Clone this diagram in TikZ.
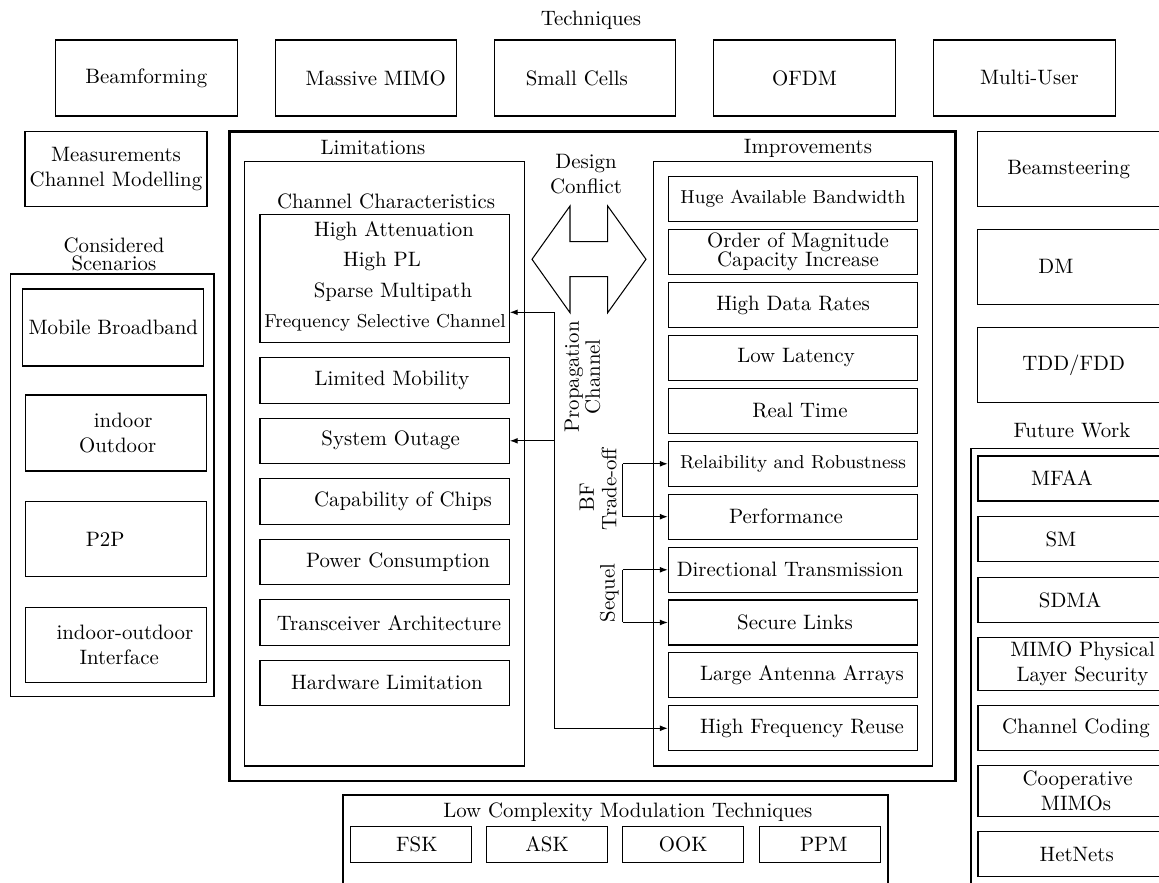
\documentclass[tikz,border=0pt]{standalone}
\usetikzlibrary{arrows.meta}
\begin{document}
\begin{tikzpicture}[x=0.48pt,y=-0.48pt,
  box/.style={draw, line width=0.5pt, inner sep=1pt, align=center},
  bx/.style 2 args={minimum width=#1*0.48pt, minimum height=#2*0.48pt},
  mainframe/.style={draw, line width=1.4pt, inner sep=0pt},
  lbl/.style={inner sep=0pt, align=center},
  conn/.style={line width=0.5pt},
  arr/.style={line width=0.5pt, -{Latex[length=3.8pt,width=2.8pt]}}]
\useasboundingbox (0,0) rectangle (1159,883);
\clip (0,0) rectangle (1159,883);

% ---------- top row: techniques ----------
\node[lbl] (tech) at (591,20) {Techniques};
\node[box,bx={181.5}{76}] (beam)  at (146.3,78) {Beamforming};
\node[box,bx={181.5}{76}] (mimo)  at (365.8,78) {\hspace*{9.6pt}Massive MIMO};
\node[box,bx={181.5}{76}] (small) at (585.2,78) {Small Cells\hspace*{8pt}};
\node[box,bx={181.5}{76}] (ofdm)  at (804.5,78) {OFDM};
\node[box,bx={181.5}{76}] (multi) at (1024.4,78) {\hspace*{4.8pt}Multi-User};

% ---------- left column ----------
\node[box,bx={182}{75}] (meas) at (116,169.2) {Measurements\\Channel Modelling};
\node[lbl] (scenlbl) at (114,254.5) {Considered\\[-3pt]Scenarios};
\node[box,bx={203.3}{422.7}] (scenbox) at (112.35,485.35) {};
\node[box,bx={181.3}{77}] (mb)  at (113.3,327.5) {Mobile Broadband};
\node[box,bx={181}{76}]   (io)  at (116.2,433)   {\hspace*{6.7pt}indoor\\\hspace*{1.4pt}Outdoor};
\node[box,bx={181}{75}]   (p2p) at (116.2,539.2) {P2P\hspace*{10.6pt}};
\node[box,bx={181}{75.7}] (ioi) at (116.2,644.9) {\hspace*{8.4pt}indoor-outdoor\\\hspace*{2.9pt}Interface};

% ---------- main frame ----------
\node[mainframe,bx={726.2}{649.3}] (main) at (592.6,456.35) {};

% limitations
\node[lbl] (limlbl) at (373,148) {Limitations};
\node[box,bx={280.4}{604.3}] (limbox) at (384.5,463.85) {};
\node[lbl] (cclbl) at (386,201) {Channel Characteristics};
\node[box,bx={249.3}{128}] (cc) at (384.65,278.3) {};
\node[lbl] (ha)  at (394,231)   {High Attenuation};
\node[lbl] (hpl) at (382,261)   {High PL};
\node[lbl] (spm) at (393,291.7) {Sparse Multipath};
\node[lbl,font=\small] (fsc) at (385,322.7) {Frequency Selective Channel};
\node[box,bx={249.3}{45.5}] (lmob) at (384.65,380.5) {\hspace*{7pt}Limited Mobility};
\node[box,bx={249.3}{45.5}] (sout) at (384.65,440.8) {\hspace*{5.8pt}System Outage};
\node[box,bx={249.3}{45.5}] (cap)  at (384.65,501.7) {\hspace*{17.6pt}Capability of Chips};
\node[box,bx={249.3}{45.5}] (pow)  at (384.65,562)   {\hspace*{12.8pt}Power Consumption};
\node[box,bx={249.3}{45.5}] (trx)  at (384.65,622.7) {\hspace*{4.1pt}Transceiver Architecture};
\node[box,bx={249.3}{45.5}] (hw)   at (384.65,682.8) {\hspace*{2.2pt}Hardware Limitation};

% design conflict
\node[lbl] (dc) at (586,174.5) {Design\\Conflict};
\draw[line width=0.5pt] (570,206) -- (570,241.7) -- (607.7,241.7) -- (607.7,206) -- (646,259.3)
  -- (607.7,312.7) -- (607.7,276.7) -- (570,276.7) -- (570,312.7) -- (532,259.3) -- cycle;

\node[lbl,rotate=90] (prop) at (582.5,377) {Propagation\\[-2pt]Channel};
\node[lbl,rotate=90] (bf)   at (598,489)   {BF\hspace*{7.7pt}\\[-1.2pt]Trade-off};
\node[lbl,rotate=90] (seq)  at (609.3,593) {Sequel};

% improvements
\node[lbl] (implbl) at (808,148) {Improvements};
\node[box,bx={279.4}{604.3}] (impbox) at (793,463.85) {};
\node[box,bx={249.3}{45},font=\small] (huge) at (793,199.2) {Huge Available Bandwidth};
\node[box,bx={249.3}{45}] (order) at (793,251.8) {\hspace*{4.8pt}Order of Magnitude\\[-2.6pt]\hspace*{4.8pt}Capacity Increase};
\node[box,bx={249.3}{45}] (hdr)  at (793,305)   {High Data Rates};
\node[box,bx={249.3}{45}] (lat)  at (793,357.8) {\hspace*{2.9pt}Low Latency};
\node[box,bx={249.3}{45}] (rt)   at (793,410.8) {\hspace*{6.7pt}Real Time};
\node[box,bx={249.3}{45},font=\small] (rel) at (793,463.8) {Relaibility and Robustness};
\node[box,bx={249.3}{45}] (perf) at (793,516.7) {Performance\hspace*{6.7pt}};
\node[box,bx={249.3}{45}] (dir)  at (793,569.8) {Directional Transmission\hspace*{2.9pt}};
\node[box,bx={249.3}{45}] (sec)  at (793,622.5) {\hspace*{1.9pt}Secure Links};
\node[box,bx={249.3}{45}] (laa)  at (793,675.2) {\hspace*{8.6pt}Large Antenna Arrays};
\node[box,bx={249.3}{45}] (hfr)  at (793,728.3) {\hspace*{8.6pt}High Frequency Reuse};

% connectors
\coordinate (pctop) at (554.3,312.3);
\coordinate (pcbot) at (554.3,728.3);
\draw[conn] (pctop) -- (pcbot);
\draw[arr] (pctop) -- (pctop -| cc.east);
\draw[arr] (sout.east -| pctop) -- (sout.east);
\draw[arr] (pcbot) -- (hfr.west);
\coordinate (brx) at (622.7,0);
\draw[conn] (brx |- rel.west) -- (brx |- perf.west);
\draw[arr] (brx |- rel.west) -- (rel.west);
\draw[arr] (brx |- perf.west) -- (perf.west);
\draw[conn] (brx |- dir.west) -- (brx |- sec.west);
\draw[arr] (brx |- dir.west) -- (dir.west);
\draw[arr] (brx |- sec.west) -- (sec.west);

% ---------- right column ----------
\node[box,bx={182}{75}] (bst) at (1068.7,169.2) {Beamsteering};
\node[box,bx={182}{75}] (dm)  at (1068.7,266.8) {DM\hspace*{12.2pt}};
\node[box,bx={182}{75}] (tdd) at (1068.7,365.2) {\hspace*{4.8pt}TDD/FDD};
\node[lbl] (fwlbl) at (1072,431) {Future Work};
\node[box,bx={209}{451.7}] (fwbox) at (1075.5,674.15) {};
\node[box,bx={192}{45}]   (mfaa)   at (1074,478.5) {MFAA\hspace*{11.5pt}};
\node[box,bx={192}{45}]   (smx)    at (1074,539.2) {SM\hspace*{12.5pt}};
\node[box,bx={192}{45}]   (sdma)   at (1074,599.8) {SDMA\hspace*{3.8pt}};
\node[box,bx={192}{52.3}] (mimops) at (1074,663.9) {\hspace*{8.2pt}MIMO Physical\\\hspace*{8.2pt}Layer Security};
\node[box,bx={192}{45}]   (cod)    at (1074,728.2) {\hspace*{1.9pt}Channel Coding};
\node[box,bx={192}{51}]   (coop)   at (1074,791.2) {\hspace*{3.4pt}Cooperative\\\hspace*{1.9pt}MIMOs};
\node[box,bx={192}{45}]   (het)    at (1074,854.2) {\hspace*{2.6pt}HetNets};

% ---------- bottom ----------
\node[box,bx={545}{105}] (lcbox) at (615.5,847.5) {};
\node[lbl] (lclbl) at (627.8,812.3) {Low Complexity Modulation Techniques};
\node[box,bx={121}{36}] (fsk) at (410.8,844.7) {\hspace*{5.8pt}FSK};
\node[box,bx={121}{36}] (ask) at (547,844.7)   {ASK};
\node[box,bx={121}{36}] (ook) at (683.3,844.7) {OOK};
\node[box,bx={121}{36}] (ppm) at (819.7,844.7) {\hspace*{3.9pt}PPM};
\end{tikzpicture}
\end{document}
